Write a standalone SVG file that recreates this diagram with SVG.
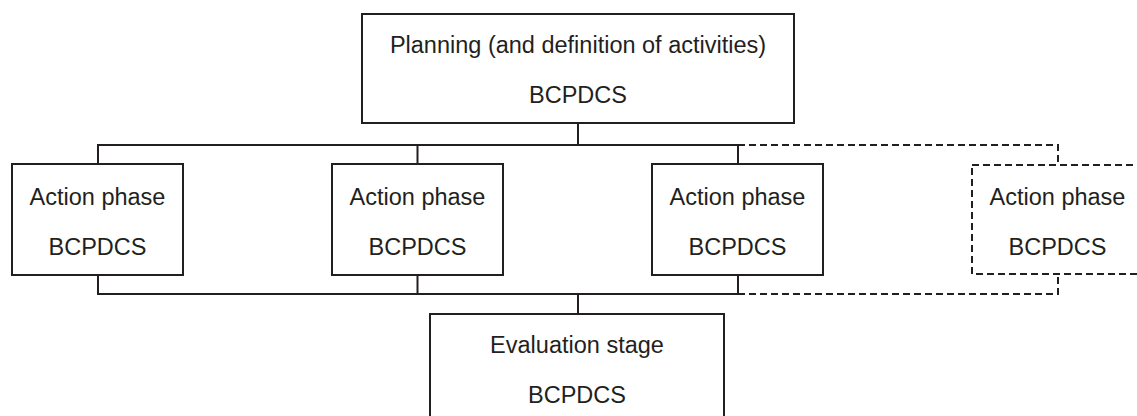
<svg xmlns="http://www.w3.org/2000/svg" width="1137" height="416" viewBox="0 0 1137 416">
<style>
.box{fill:#fff;stroke:#231f20;stroke-width:2}
.dbox{fill:#fff;stroke:#231f20;stroke-width:2;stroke-dasharray:7 4}
.ln{fill:none;stroke:#231f20;stroke-width:2}
.dl{fill:none;stroke:#231f20;stroke-width:2;stroke-dasharray:7 4}
text{font-family:"Liberation Sans",Arial,sans-serif;font-size:23.5px;fill:#231f20;text-anchor:middle}
</style>
<rect width="1137" height="416" fill="#fff"/>
<g id="connectors">
<path class="ln" d="M578 123V145M98 164V145H738V164M417.5 145V164"/>
<path class="dl" d="M738 145H1058V165"/>
<path class="ln" d="M98 275V294H738V275M417.5 275V294M578 294V314"/>
<path class="dl" d="M738 294H1058V274"/>
</g>
<g id="planning">
<rect class="box" x="362" y="14" width="432" height="109"/>
<text x="578" y="53">Planning (and definition of activities)</text>
<text x="578" y="103">BCPDCS</text>
</g>
<g id="action1">
<rect class="box" x="12" y="164" width="171" height="111"/>
<text x="97.5" y="205">Action phase</text>
<text x="97.5" y="255">BCPDCS</text>
</g>
<g id="action2">
<rect class="box" x="332" y="164" width="171" height="111"/>
<text x="417.5" y="205">Action phase</text>
<text x="417.5" y="255">BCPDCS</text>
</g>
<g id="action3">
<rect class="box" x="652" y="164" width="171" height="111"/>
<text x="737.5" y="205">Action phase</text>
<text x="737.5" y="255">BCPDCS</text>
</g>
<g id="action4">
<rect class="dbox" x="972" y="165" width="171" height="109"/>
<text x="1057.5" y="205">Action phase</text>
<text x="1057.5" y="255">BCPDCS</text>
</g>
<g id="evaluation">
<rect class="box" x="430" y="314" width="294" height="110"/>
<text x="577" y="353">Evaluation stage</text>
<text x="577" y="403">BCPDCS</text>
</g>
</svg>
